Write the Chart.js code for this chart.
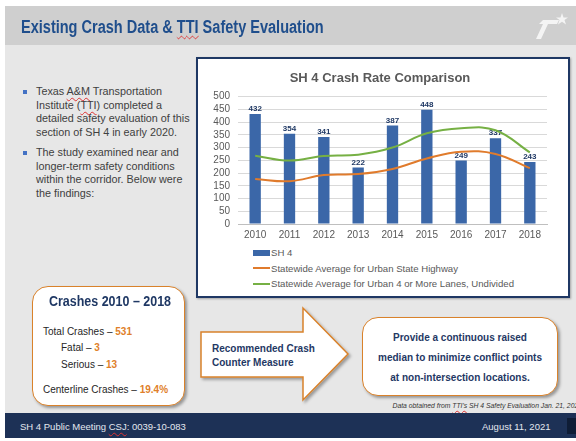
<!DOCTYPE html>
<html>
<head>
<meta charset="utf-8">
<script src="https://cdn.jsdelivr.net/npm/chart.js@4"></script>
<style>
  body { margin: 0; width: 576px; height: 441px; position: relative; overflow: hidden; background: #fff; font-family: "Liberation Sans", Arial, sans-serif; }
  .abs { position: absolute; }
  #header { left: 5px; top: 6px; width: 571px; height: 39px; background: #cfcfcf; }
  #title { left: 21px; top: 16px; font-weight: bold; font-size: 17.5px; color: #1f4e8c; white-space: nowrap; line-height: 22px; transform: scaleX(0.83); transform-origin: 0 50%; }
  .squig { text-decoration: underline wavy #d33; text-decoration-thickness: 1px; text-underline-offset: 2px; }
  #main { left: 5px; top: 45px; width: 571px; height: 368px; background: #e7e7e7; }
  #footer { left: 5px; top: 413px; width: 571px; height: 25px; background: #1d3156; }
  .bullets { left: 23px; width: 170px; font-size: 10.8px; line-height: 13.7px; color: #404040; }
  .bullets .dot { position: absolute; left: 0; top: 5px; width: 4px; height: 4px; background: #4472c4; }
  .bullets .txt { position: absolute; left: 13px; white-space: nowrap; }
  #chartBox { left: 196px; top: 57px; width: 374px; height: 241px; box-sizing: border-box; border: 2px solid #1f3864; background: #fff; box-shadow: 1px 1px 2px rgba(0,0,0,0.3); }
  #chartWrap { left: 198px; top: 59px; width: 370px; height: 186px; }
  #legend { left: 253px; top: 245px; font-size: 9.6px; color: #595959; }
  #legend .row { height: 15.5px; line-height: 15.5px; white-space: nowrap; display: flex; align-items: center; }
  #legend .sw { width: 17px; margin-right: 1px; }
  .card { background: #fff; border: 1.5px solid #d9822b; border-radius: 16px; box-sizing: border-box; box-shadow: 2px 2px 3px rgba(0,0,0,0.35); }
  #crashCard { left: 32px; top: 286px; width: 153px; height: 120px; color: #262626; font-size: 10px; }
  #crashCard .hd { position: absolute; left: 16px; top: 5px; white-space: nowrap; font-weight: bold; font-size: 14.5px; line-height: 18px; color: #1f3864; transform: scaleX(0.86); transform-origin: 0 50%; }
  #crashCard .ln { position: absolute; white-space: nowrap; line-height: 12px; }
  .org { color: #e07f2a; font-weight: bold; }
  .navy { color: #1f3864; font-weight: bold; font-size: 10px; }
  #measureCard { left: 362px; top: 317px; width: 196px; height: 79px; }
  #measureCard div { position: absolute; left: 0; width: 100%; text-align: center; line-height: 12px; }
  #note { right: -6px; top: 402px; font-size: 6.8px; font-style: italic; color: #333; white-space: nowrap; }
  .foot { color: #e4e8f0; font-size: 9.5px; top: 421px; white-space: nowrap; line-height: 12px; }
</style>
</head>
<body>
<div id="header" class="abs"></div>
<div id="title" class="abs">Existing Crash Data &amp; <span class="squig">TTI</span> Safety Evaluation</div>
<svg class="abs" style="left:535px;top:11px" width="36" height="30" viewBox="0 0 36 30">
  <polygon points="8,9 24,9 22,13 13,13 6,28 1,28 8,13 4,13" fill="#f4f4f4"/>
  <polygon points="27,2 28.5,6.5 33,6.5 29.5,9 31,13.5 27,10.8 23,13.5 24.5,9 21,6.5 25.5,6.5" fill="#f4f4f4"/>
</svg>
<div id="main" class="abs"></div>

<div class="abs bullets" style="top:85px;">
  <div class="dot"></div>
  <div class="txt">Texas <span class="squig">A&amp;M</span> Transportation<br>Institute (<span class="squig">TTI</span>) completed a<br>detailed safety evaluation of this<br>section of SH 4 in early 2020.</div>
</div>
<div class="abs bullets" style="top:146px;">
  <div class="dot"></div>
  <div class="txt">The study examined near and<br>longer-term safety conditions<br>within the corridor. Below were<br>the findings:</div>
</div>

<div id="chartBox" class="abs"></div>
<div id="chartWrap" class="abs"><canvas id="crashChart"></canvas></div>
<div id="legend" class="abs"></div>

<div id="crashCard" class="abs card">
  <div class="hd">Crashes 2010 – 2018</div>
  <div class="ln" style="left:10px;top:39px;">Total Crashes – <span class="org">531</span></div>
  <div class="ln" style="left:28px;top:55px;">Fatal – <span class="org">3</span></div>
  <div class="ln" style="left:28px;top:72px;">Serious – <span class="org">13</span></div>
  <div class="ln" style="left:10px;top:97px;">Centerline Crashes – <span class="org">19.4%</span></div>
</div>

<svg class="abs" style="left:196px;top:303px;overflow:visible" width="160" height="102">
  <defs><filter id="sh" x="-10%" y="-10%" width="130%" height="130%"><feDropShadow dx="2" dy="2" stdDeviation="1.5" flood-opacity="0.35"/></filter></defs>
  <polygon points="5,29 107,29 107,5 152,51 107,97 107,74 5,74" fill="#fff" stroke="#d9822b" stroke-width="1.5" filter="url(#sh)"/>
</svg>
<div class="abs navy" style="left:212px;top:342px;line-height:14px;white-space:nowrap;">Recommended Crash<br>Counter Measure</div>

<div id="measureCard" class="abs card navy">
  <div style="top:14px;">Provide a continuous raised</div>
  <div style="top:34px;">median to minimize conflict points</div>
  <div style="top:54px;">at non-intersection locations.</div>
</div>

<div id="note" class="abs">Data obtained from <span class="squig">TTI's</span> SH 4 Safety Evaluation Jan. 21, 2020</div>

<div id="footer" class="abs"></div>
<div class="abs foot" style="left:20px;">SH 4 Public Meeting <span class="squig">CSJ</span>: 0039-10-083</div>
<div class="abs foot" style="left:482px;">August 11, 2021</div>
<div class="abs" style="left:567px;top:418px;width:12px;height:16px;background:#0f1d36;"></div>

<script>
const years = ["2010", "2011", "2012", "2013", "2014", "2015", "2016", "2017", "2018"];
const sh4Rates = [432, 354, 341, 222, 387, 448, 249, 337, 243];
const urbanHighwayAvg = [177, 168, 192, 196, 216, 257, 284, 275, 219];
const urbanUndividedAvg = [268, 249, 267, 272, 300, 356, 376, 368, 281];
const seriesNames = [
  "SH 4",
  "Statewide Average for Urban State Highway",
  "Statewide Average for Urban 4 or More Lanes, Undivided"
];
const yMax = 500;
const yStep = 50;

const FONT = '"Liberation Sans", Arial, sans-serif';

// value labels above the bars, drawn before the lines so the lines sit on top
const barLabels = {
  id: "barLabels",
  afterDatasetDraw(chart, args) {
    if (args.index !== 0) return;
    const ctx = chart.ctx;
    ctx.save();
    ctx.font = "bold 8px " + FONT;
    ctx.fillStyle = "#1f3864";
    ctx.textAlign = "center";
    ctx.textBaseline = "bottom";
    args.meta.data.forEach((bar, i) => {
      ctx.fillText(String(sh4Rates[i]), bar.x, bar.y - 1);
    });
    ctx.restore();
  }
};

const chart = new Chart(document.getElementById("crashChart"), {
  type: "bar",
  data: {
    labels: years,
    datasets: [
      {
        type: "bar",
        label: seriesNames[0],
        data: sh4Rates,
        backgroundColor: "#3b67a8",
        barPercentage: 0.33,
        categoryPercentage: 1,
        order: 2
      },
      {
        type: "line",
        label: seriesNames[1],
        data: urbanHighwayAvg,
        borderColor: "#e07b2c",
        borderWidth: 2,
        pointRadius: 0,
        tension: 0.4,
        order: 1
      },
      {
        type: "line",
        label: seriesNames[2],
        data: urbanUndividedAvg,
        borderColor: "#76b044",
        borderWidth: 2,
        pointRadius: 0,
        tension: 0.4,
        order: 1
      }
    ]
  },
  options: {
    animation: false,
    responsive: true,
    maintainAspectRatio: false,
    layout: { padding: { left: 15, right: 21, top: 0, bottom: 4 } },
    plugins: {
      legend: { display: false },
      tooltip: { enabled: false },
      title: {
        display: true,
        text: "SH 4 Crash Rate Comparison",
        color: "#595959",
        font: { family: FONT, size: 13, weight: "bold" },
        padding: { top: 12, bottom: 10 }
      }
    },
    scales: {
      x: {
        offset: true,
        grid: { display: false, drawTicks: false },
        border: { color: "#bfbfbf" },
        ticks: { color: "#595959", font: { family: FONT, size: 10 }, padding: 5, maxRotation: 0 },
        afterFit(scale) { scale.height = 17; }
      },
      y: {
        min: 0,
        max: yMax,
        border: { display: false },
        grid: { color: "#d9d9d9", drawTicks: false },
        ticks: { stepSize: yStep, autoSkip: false, color: "#595959", font: { family: FONT, size: 10 }, padding: 8 },
        afterFit(scale) { scale.width = 25; }
      }
    }
  },
  plugins: [barLabels]
});

// legend, one entry per row, built from the chart's datasets
const legendEl = document.getElementById("legend");
chart.data.datasets.forEach((ds) => {
  const row = document.createElement("div");
  row.className = "row";
  const sw = document.createElement("span");
  sw.className = "sw";
  if (ds.type === "bar") {
    sw.style.height = "6px";
    sw.style.background = ds.backgroundColor;
  } else {
    sw.style.height = "2px";
    sw.style.background = ds.borderColor;
  }
  row.appendChild(sw);
  row.appendChild(document.createTextNode(ds.label));
  legendEl.appendChild(row);
});
</script>
</body>
</html>
